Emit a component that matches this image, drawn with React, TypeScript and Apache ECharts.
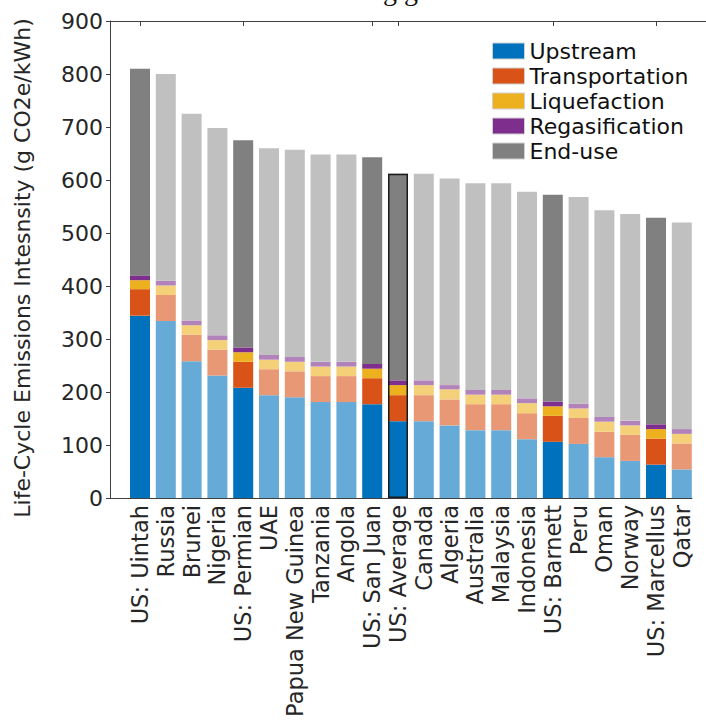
import React, { useEffect, useRef } from "react";
import * as echarts from "echarts";

const categories = [
  "US: Uintah", "Russia", "Brunei", "Nigeria", "US: Permian", "UAE",
  "Papua New Guinea", "Tanzania", "Angola", "US: San Juan", "US: Average",
  "Canada", "Algeria", "Australia", "Malaysia", "Indonesia", "US: Barnett",
  "Peru", "Oman", "Norway", "US: Marcellus", "Qatar",
];
const upstream = [344, 334, 258, 231, 208, 194, 190, 181, 181, 177, 145, 145, 137, 128, 128, 111, 106, 102, 77, 70, 63, 54];
const transportation = [50, 49, 50, 49, 49, 49, 49, 49, 49, 49, 49, 49, 49, 49, 49, 49, 49, 49, 48, 49, 49, 49];
const liquefaction = [17, 18, 18, 18, 18, 18, 18, 18, 18, 18, 19, 19, 19, 18, 18, 19, 18, 18, 19, 18, 18, 18];
const regasification = [9, 9, 9, 9, 9, 9, 9, 9, 9, 9, 9, 9, 8, 9, 9, 9, 9, 9, 9, 9, 9, 9];
const endUse = [390, 390, 390, 391, 391, 390, 391, 391, 391, 390, 390, 390, 390, 390, 390, 390, 390, 390, 390, 390, 390, 390];
const yTicks = [0, 100, 200, 300, 400, 500, 600, 700, 800, 900];
const highlighted = "US: Average";

const seriesNames = ["Upstream", "Transportation", "Liquefaction", "Regasification", "End-use"];
const strongColors = ["#0072BD", "#D95319", "#EDB120", "#7E2F8E", "#808080"];
const lightColors = ["#66AAD7", "#E89875", "#F4D079", "#B282BB", "#C0C0C0"];

const FONT = "'DejaVu Sans', Verdana, sans-serif";
const TEXT = "#262626";
const AXIS = "#404040";

export default function App() {
  const ref = useRef<HTMLDivElement>(null);
  useEffect(() => {
    if (!ref.current) return;
    const chart = echarts.init(ref.current, undefined, { renderer: "svg" });
    const values = [upstream, transportation, liquefaction, regasification, endUse];
    const isUS = (c: string) => c.startsWith("US:");
    const n = categories.length;
    const barW = 20;
    const band = 25.8;
    const firstCenter = 140;
    const g1Left = firstCenter - band / 2;
    const g1Right = 706 - (g1Left + band * n);
    const totals = categories.map((_, i) => values.reduce((s, arr) => s + arr[i], 0));

    const stackSeries = seriesNames.map((name, k) => ({
      name,
      type: "bar",
      stack: "total",
      xAxisIndex: 1,
      yAxisIndex: 1,
      barWidth: barW,
      barGap: "-100%",
      itemStyle: { color: strongColors[k] },
      data: values[k].map((v, i) => ({
        value: v,
        itemStyle: { color: isUS(categories[i]) ? strongColors[k] : lightColors[k] },
      })),
    }));

    const outline = {
      name: "outline",
      type: "bar",
      xAxisIndex: 1,
      yAxisIndex: 1,
      barWidth: barW,
      barGap: "-100%",
      silent: true,
      z: 5,
      itemStyle: { color: "rgba(0,0,0,0)", borderColor: "#1a1a1a", borderWidth: 1.5 },
      data: categories.map((c, i) => (c === highlighted ? totals[i] : null)),
    };

    const usIdx = new Set(categories.map((c, i) => (isUS(c) ? i : -1)).filter((i) => i >= 0));

    chart.setOption({
      animation: false,
      backgroundColor: "#ffffff",
      textStyle: { fontFamily: FONT },
      grid: [
        { left: 110, right: 14, top: 21, bottom: 228 },
        { left: g1Left, right: g1Right, top: 21, bottom: 228 },
      ],
      xAxis: [
        {
          type: "value",
          gridIndex: 0,
          min: 0,
          max: 1,
          axisLine: { show: true, lineStyle: { color: AXIS, width: 1 } },
          axisTick: { show: false },
          axisLabel: { show: false },
          splitLine: { show: false },
        },
        {
          type: "category",
          gridIndex: 1,
          data: categories,
          axisLine: { show: false },
          axisTick: { show: false },
          axisLabel: {
            rotate: 90,
            interval: 0,
            margin: 7,
            fontSize: 22.5,
            color: TEXT,
            fontFamily: FONT,
          },
        },
        {
          type: "category",
          gridIndex: 1,
          position: "top",
          data: categories,
          axisLine: { show: false },
          axisLabel: { show: false },
          axisTick: {
            show: true,
            inside: true,
            length: 5,
            alignWithLabel: true,
            interval: (i: number) => usIdx.has(i),
            lineStyle: { color: AXIS },
          },
        },
      ],
      yAxis: [
        {
          type: "value",
          gridIndex: 0,
          min: 0,
          max: 900,
          interval: 100,
          axisLine: { show: true, lineStyle: { color: AXIS, width: 1 } },
          axisTick: { show: true, inside: false, length: 4, lineStyle: { color: AXIS } },
          axisLabel: {
            fontSize: 22,
            color: TEXT,
            margin: 7,
            fontFamily: FONT,
            formatter: (v: number) => (yTicks.includes(v) ? String(v) : ""),
          },
          splitLine: { show: false },
        },
        {
          type: "value",
          gridIndex: 1,
          min: 0,
          max: 900,
          interval: 100,
          show: false,
        },
      ],
      legend: {
        data: seriesNames,
        orient: "vertical",
        left: 487,
        top: 35,
        itemWidth: 32,
        itemHeight: 16,
        itemGap: 3,
        icon: "rect",
        itemStyle: { borderColor: "#d0d0d0", borderWidth: 1 },
        textStyle: { fontSize: 22, color: "#111111", fontFamily: FONT, padding: [0, 0, 0, 0] },
        selectedMode: false,
      },
      graphic: [
        {
          type: "line",
          shape: { x1: 110, y1: 21.5, x2: 706, y2: 21.5 },
          style: { stroke: AXIS, lineWidth: 1 },
          silent: true,
        },
        {
          type: "text",
          x: 22,
          y: 268,
          rotation: Math.PI / 2,
          style: {
            text: "Life-Cycle Emissions Intesnsity (g CO2e/kWh)",
            font: "22px 'DejaVu Sans', Verdana, sans-serif",
            fill: TEXT,
            align: "center",
            verticalAlign: "middle",
          },
          silent: true,
        },
        {
          type: "text",
          left: 383,
          top: -24,
          style: { text: "g g", font: "28px 'Liberation Serif', serif", fill: "#111111" },
          silent: true,
        },
      ],
      series: [...stackSeries, outline],
    });
    return () => chart.dispose();
  }, []);
  return (
    <div
      ref={ref}
      style={{ position: "fixed", left: 0, top: 0, width: 706, height: 726 }}
    />
  );
}
